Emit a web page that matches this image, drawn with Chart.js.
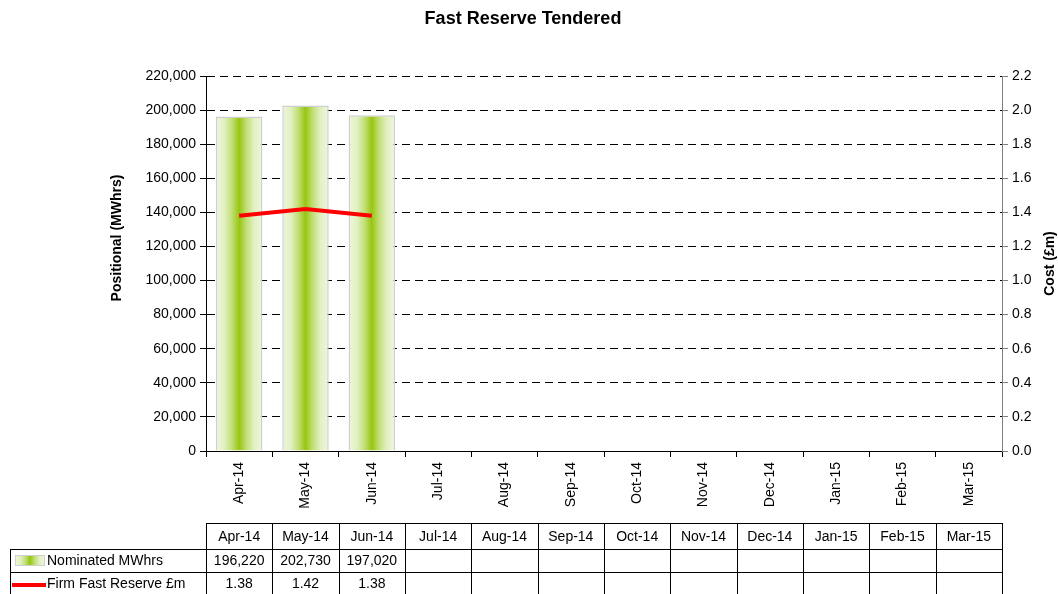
<!DOCTYPE html>
<html>
<head>
<meta charset="utf-8">
<title>Fast Reserve Tendered</title>
<script src="https://cdn.jsdelivr.net/npm/chart.js@4/dist/chart.umd.min.js"></script>
<style>
  html, body { margin: 0; padding: 0; background: #fff; }
  #wrap { width: 1058px; height: 594px; position: relative; }
</style>
</head>
<body>
<div id="wrap"><canvas id="reserveChart" width="1058" height="594"></canvas></div>
<script>
const months = ["Apr-14", "May-14", "Jun-14", "Jul-14", "Aug-14", "Sep-14",
                "Oct-14", "Nov-14", "Dec-14", "Jan-15", "Feb-15", "Mar-15"];
const nominatedMWhrs = [196220, 202730, 197020, null, null, null, null, null, null, null, null, null];
const firmFastReserve = [1.38, 1.42, 1.38, null, null, null, null, null, null, null, null, null];

const FONT = "'Liberation Sans', Arial, sans-serif";
const BAR_PCT = 0.7;

/* green bar fill, light at the edges, strong in the middle */
function barGradient(g, x0, x1) {
  const grad = g.createLinearGradient(x0, 0, x1, 0);
  grad.addColorStop(0, "#eef6dc");
  grad.addColorStop(0.18, "#e2f0c2");
  grad.addColorStop(0.34, "#c2df78");
  grad.addColorStop(0.5, "#98c612");
  grad.addColorStop(0.66, "#c2df78");
  grad.addColorStop(0.82, "#e2f0c2");
  grad.addColorStop(1, "#eef6dc");
  return grad;
}

function vText(g, text, x, y) {
  g.save();
  g.translate(x, y);
  g.rotate(-Math.PI / 2);
  g.fillText(text, 0, 0);
  g.restore();
}

/* titles and the data table underneath the chart */
const dataTable = {
  id: "dataTable",
  afterDraw(chart) {
    const g = chart.ctx;
    const area = chart.chartArea;
    const colW = (area.right - area.left) / months.length;
    const headTop = 523, headBot = 549, row1 = 572, row2 = 595;
    const legLeft = 10;

    g.save();
    g.fillStyle = "#000";
    g.textAlign = "center";
    g.textBaseline = "middle";

    g.font = "bold 18px " + FONT;
    g.fillText("Fast Reserve Tendered", 523, 19);
    g.font = "bold 14px " + FONT;
    vText(g, "Positional (MWhrs)", 117, 238);
    vText(g, "Cost (£m)", 1050, (area.top + area.bottom) / 2);

    g.strokeStyle = "#000";
    g.lineWidth = 1;
    g.font = "14px " + FONT;

    // horizontal lines
    g.beginPath();
    g.moveTo(area.left, headTop + 0.5); g.lineTo(area.right, headTop + 0.5);
    g.moveTo(legLeft, headBot + 0.5); g.lineTo(area.right, headBot + 0.5);
    g.moveTo(legLeft, row1 + 0.5); g.lineTo(area.right, row1 + 0.5);
    // vertical lines
    for (let i = 0; i <= months.length; i++) {
      const x = Math.round(area.left + i * colW) + 0.5;
      g.moveTo(x, headTop); g.lineTo(x, row2);
    }
    g.moveTo(legLeft + 0.5, headBot); g.lineTo(legLeft + 0.5, row2);
    g.stroke();

    months.forEach((m, i) => {
      const cx = area.left + (i + 0.5) * colW;
      g.fillText(m, cx, (headTop + headBot) / 2 + 1);
      if (nominatedMWhrs[i] != null)
        g.fillText(nominatedMWhrs[i].toLocaleString("en-US"), cx, (headBot + row1) / 2 + 1);
      if (firmFastReserve[i] != null)
        g.fillText(firmFastReserve[i].toFixed(2), cx, (row1 + row2) / 2 + 1);
    });

    // legend keys
    g.fillStyle = barGradient(g, 15, 45);
    g.fillRect(15, 555, 30, 11);
    g.strokeStyle = "#d0d0d0";
    g.strokeRect(15.5, 555.5, 29, 10);
    g.strokeStyle = "#ff0000";
    g.lineWidth = 4;
    g.beginPath();
    g.moveTo(12, 585); g.lineTo(46, 585);
    g.stroke();

    g.fillStyle = "#000";
    g.textAlign = "left";
    g.fillText("Nominated MWhrs", 47, (headBot + row1) / 2 + 1);
    g.fillText("Firm Fast Reserve £m", 47, (row1 + row2) / 2 + 1);
    g.restore();
  }
};

new Chart(document.getElementById("reserveChart"), {
  type: "bar",
  data: {
    labels: months,
    datasets: [
      {
        type: "line",
        label: "Firm Fast Reserve £m",
        data: firmFastReserve,
        yAxisID: "y2",
        borderColor: "#ff0000",
        borderWidth: 4,
        pointRadius: 0,
        tension: 0,
        order: 0
      },
      {
        label: "Nominated MWhrs",
        data: nominatedMWhrs,
        yAxisID: "y",
        backgroundColor: ctx => {
          const chart = ctx.chart;
          const area = chart.chartArea;
          if (!area || ctx.type !== "data") return "#b5d85a";
          const cx = chart.scales.x.getPixelForValue(ctx.dataIndex);
          const half = (area.right - area.left) / months.length * BAR_PCT / 2;
          return barGradient(chart.ctx, cx - half, cx + half);
        },
        borderColor: "#cfcfcf",
        borderWidth: 1.5,
        barPercentage: BAR_PCT,
        categoryPercentage: 1,
        order: 1
      }
    ]
  },
  options: {
    responsive: false,
    animation: false,
    layout: { padding: { top: 76, right: 0, bottom: 0, left: 0 } },
    plugins: {
      legend: { display: false },
      tooltip: { enabled: false },
      title: { display: false }
    },
    scales: {
      x: {
        offset: true,
        afterFit: s => { s.height = 143; },
        grid: { drawOnChartArea: false, offset: true, tickLength: 6, tickColor: "#000" },
        border: { color: "#000" },
        ticks: {
          minRotation: 90, maxRotation: 90, padding: 5,
          color: "#000", font: { family: FONT, size: 14 }
        }
      },
      y: {
        position: "left",
        min: 0, max: 220000,
        afterFit: s => { s.width = 206; },
        grid: { color: "#000", lineWidth: 1, tickLength: 6, tickColor: "#000" },
        border: { color: "#000", dash: [8, 5] },
        ticks: {
          stepSize: 20000, padding: 4, color: "#000",
          font: { family: FONT, size: 14 },
          callback: v => v.toLocaleString("en-US")
        }
      },
      y2: {
        position: "right",
        min: 0, max: 2.2,
        afterFit: s => { s.width = 56; },
        grid: { drawOnChartArea: false, tickLength: 6, tickColor: "#808080" },
        border: { color: "#808080" },
        ticks: {
          stepSize: 0.2, padding: 4, color: "#000",
          font: { family: FONT, size: 14 },
          callback: v => v.toFixed(1)
        }
      }
    }
  },
  plugins: [dataTable]
});
</script>
</body>
</html>
